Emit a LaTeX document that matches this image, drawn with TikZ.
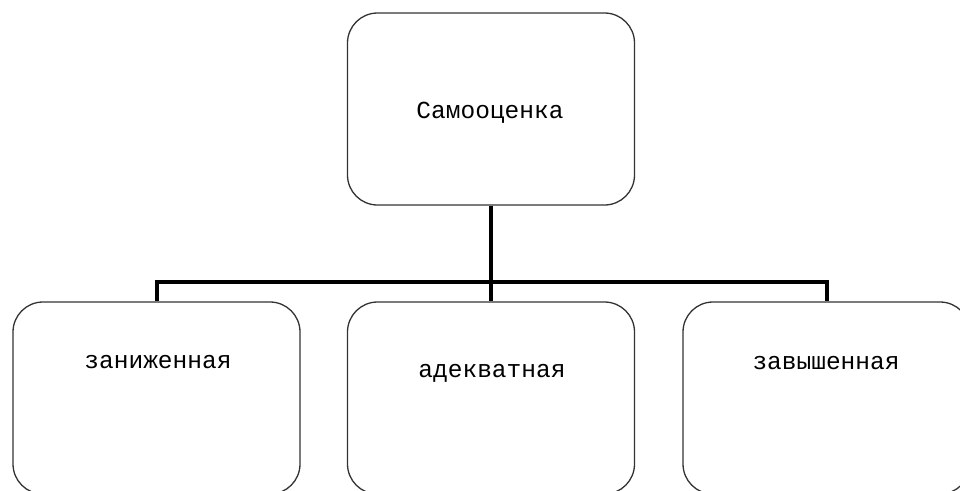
\documentclass[tikz,border=0pt]{standalone}
\usepackage{fontspec}
\setmainfont{Liberation Mono}
\usetikzlibrary{positioning}

\begin{document}
\begin{tikzpicture}[x=1pt,y=-1pt]
\tikzset{box/.style={draw=black!80,line width=1.3pt,rounded corners=30pt,
    minimum width=287pt,minimum height=192pt,inner sep=0pt},
  lbl/.style={anchor=base,inner sep=0pt,font=\fontsize{24.5}{28}\selectfont},
  link/.style={line width=4pt}}
\useasboundingbox (0,0) rectangle (960,490);
\clip (0,0) rectangle (960,490);

% top node
\node[box] (self) at (491,109) {};
\node[lbl] (selft) at (490,118) {Самооценка};

% low node
\node[box] (low) at (156.5,398) {};
\node[lbl] (lowt) at (158,368) {заниженная};

% adequate node
\node[box] (mid) at (491,398) {};
\node[lbl] (midt) at (492,377) {адекватная};

% high node
\node[box] (high) at (826.5,398) {};
\node[lbl] (hight) at (826,369) {завышенная};

\draw[link] (self.south) -- (mid.north);
\draw[link] (low.north) -- ++(0,-19) -| (high.north);

\end{tikzpicture}
\end{document}
